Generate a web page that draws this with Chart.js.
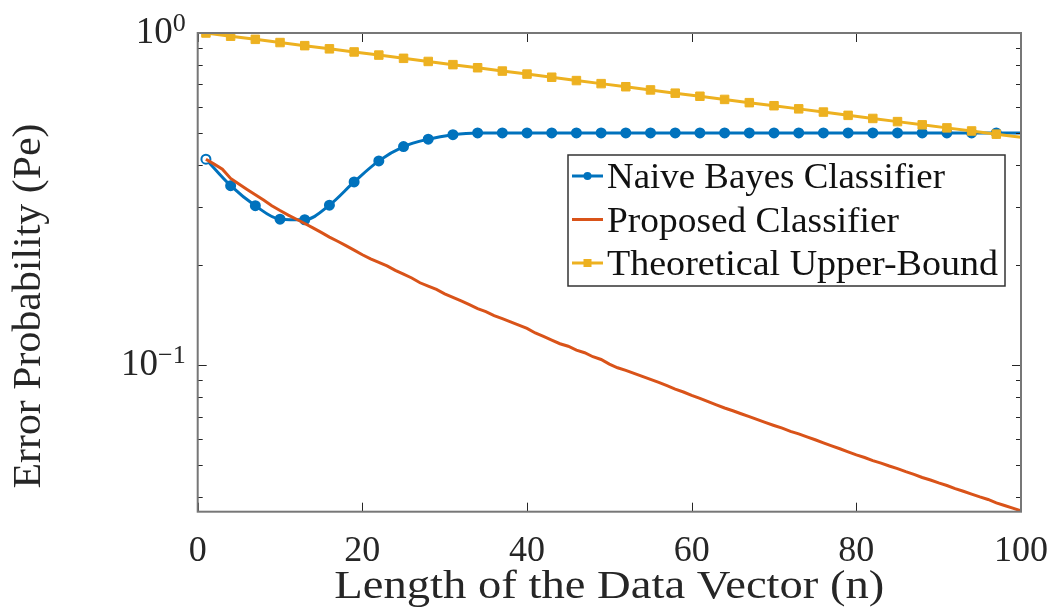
<!DOCTYPE html>
<html><head><meta charset="utf-8">
<script src="https://cdn.jsdelivr.net/npm/chart.js@4.4.0/dist/chart.umd.min.js"></script>
<style>html,body{margin:0;padding:0;background:#fff;overflow:hidden}</style>
</head><body>
<canvas id="c" width="1053" height="616"></canvas>
<script>
// ---------------- data ----------------
const markerN = [1,4,7,10,13,16,19,22,25,28,31,34,37,40,43,46,49,52,55,58,61,64,67,70,73,76,79,82,85,88,91,94,97,100];
const naiveBayes = [0.417,0.347,0.302,0.275,0.274,0.303,0.356,0.412,0.455,0.479,0.494,0.5,0.5,0.5,0.5,0.5,0.5,0.5,0.5,0.5,0.5,0.5,0.5,0.5,0.5,0.5,0.5,0.5,0.5,0.5,0.5,0.5,0.5,0.5];
const upperBound = [1.000,0.978,0.957,0.936,0.916,0.896,0.877,0.858,0.839,0.821,0.803,0.786,0.768,0.752,0.736,0.719,0.704,0.689,0.674,0.659,0.645,0.631,0.617,0.604,0.591,0.578,0.565,0.553,0.541,0.529,0.518,0.507,0.496,0.485];
const proposedN = [1,2,3,4,5,6,7,8,9,10,11,12,13,14,15,16,17,18,19,20,21,22,23,24,25,26,27,28,29,30,31,32,33,34,35,36,37,38,39,40,41,42,43,44,45,46,47,48,49,50,51,52,53,54,55,56,57,58,59,60,61,62,63,64,65,66,67,68,69,70,71,72,73,74,75,76,77,78,79,80,81,82,83,84,85,86,87,88,89,90,91,92,93,94,95,96,97,98,99,100];
const proposed = [0.417,0.403,0.389,0.365,0.351,0.338,0.326,0.314,0.302,0.292,0.283,0.275,0.267,0.259,0.251,0.243,0.236,0.229,0.222,0.215,0.209,0.204,0.199,0.193,0.188,0.183,0.177,0.173,0.169,0.164,0.160,0.156,0.152,0.148,0.145,0.141,0.138,0.135,0.132,0.129,0.125,0.122,0.119,0.116,0.114,0.111,0.109,0.106,0.104,0.1007,0.0982,0.0964,0.0944,0.0925,0.0906,0.0887,0.0867,0.0847,0.0830,0.0811,0.0794,0.0776,0.0759,0.0743,0.0729,0.0714,0.0700,0.0685,0.0671,0.0658,0.0646,0.0632,0.0621,0.0608,0.0596,0.0583,0.0571,0.0560,0.0548,0.0537,0.0527,0.0516,0.0507,0.0497,0.0488,0.0478,0.0469,0.0459,0.0451,0.0442,0.0434,0.0425,0.0417,0.0409,0.0401,0.0394,0.0385,0.0378,0.0371,0.0364];
const xTicks = [0,20,40,60,80,100];
const xTickLabels = ['0','20','40','60','80','100'];
const yMajorTicks = [0.1, 1];
const yMajorLabels = [['10','\u22121'],['10','0']];
const yMinorTicks = [0.04,0.05,0.06,0.07,0.08,0.09,0.2,0.3,0.4,0.5,0.6,0.7,0.8,0.9];
const seriesLabels = ['Naive Bayes Classifier','Proposed Classifier','Theoretical Upper-Bound'];
const xTitle = 'Length of the Data Vector (n)';
const yTitle = 'Error Probability (Pe)';
const yRange = [0.0362, 1];
const xRange = [0, 100];

// ---------------- styles ----------------
const FONT = "'Liberation Serif', 'Times New Roman', serif";
const BLUE = '#0072BD', ORANGE = '#D95319', YELLOW = '#EDB120';

const pts = (xs, ys) => xs.map((v, i) => ({x: v, y: ys[i]}));

// draw text stretched horizontally to a target width (imitates the wider LaTeX face)
function fitText(ctx, text, x, y, target, align) {
  const w = ctx.measureText(text).width;
  const k = target / w;
  ctx.save();
  ctx.textAlign = 'left';
  const x0 = align === 'center' ? x - target / 2 : x;
  ctx.translate(x0, y);
  ctx.scale(k, 1);
  ctx.fillText(text, 0, 0);
  ctx.restore();
}

const decor = {
  id: 'decor',
  afterDraw(chart) {
    const {ctx, chartArea: a, scales: {x, y}} = chart;
    ctx.save();
    const line = (x1, y1, x2, y2) => { ctx.beginPath(); ctx.moveTo(x1, y1); ctx.lineTo(x2, y2); ctx.stroke(); };
    // ticks (inward)
    ctx.strokeStyle = '#262626'; ctx.lineWidth = 1;
    xTicks.forEach(v => {
      const px = Math.round(x.getPixelForValue(v)) + 0.5;
      line(px, a.bottom, px, a.bottom - 9); line(px, a.top, px, a.top + 9);
    });
    yMajorTicks.forEach(v => {
      const py = Math.round(y.getPixelForValue(v)) + 0.5;
      line(a.left, py, a.left + 9, py); line(a.right, py, a.right - 9, py);
    });
    yMinorTicks.forEach(v => {
      const py = Math.round(y.getPixelForValue(v)) + 0.5;
      line(a.left, py, a.left + 5, py); line(a.right, py, a.right - 5, py);
    });
    // box
    ctx.strokeStyle = '#777'; ctx.lineWidth = 2;
    ctx.strokeRect(a.left, a.top, a.right - a.left, a.bottom - a.top);

    // tick labels
    ctx.fillStyle = '#262626';
    ctx.font = '36px ' + FONT; ctx.textAlign = 'center'; ctx.textBaseline = 'alphabetic';
    xTicks.forEach((v, i) => ctx.fillText(xTickLabels[i], x.getPixelForValue(v), a.bottom + 49));
    yMajorTicks.forEach((v, i) => {
      const py = y.getPixelForValue(v);
      ctx.font = '26px ' + FONT; ctx.textAlign = 'right';
      const sw = ctx.measureText(yMajorLabels[i][1]).width;
      const sx = a.left - 12;
      ctx.fillText(yMajorLabels[i][1], sx, py - 2);
      ctx.font = '37px ' + FONT;
      ctx.fillText(yMajorLabels[i][0], sx - sw, py + 10);
    });
    // axis titles
    ctx.font = '40px ' + FONT;
    fitText(ctx, xTitle, (a.left + a.right) / 2, 598, 550, 'center');
    ctx.save();
    ctx.translate(40, 306);
    ctx.rotate(-Math.PI / 2);
    fitText(ctx, yTitle, 0, 0, 365, 'center');
    ctx.restore();

    // legend
    const lw = 437, lh = 131;
    const lx = a.right - 16 - lw, ly = a.top + 122;
    ctx.fillStyle = '#fff'; ctx.fillRect(lx, ly, lw, lh);
    ctx.strokeStyle = '#333'; ctx.lineWidth = 1.5; ctx.strokeRect(lx, ly, lw, lh);
    ctx.font = '36px ' + FONT;
    const legendW = [338, 292, 391];
    chart.data.datasets.forEach((ds, i) => {
      const cy = ly + 21 + i * 43.5;
      ctx.strokeStyle = ds.borderColor; ctx.lineWidth = 3;
      line(lx + 4, cy, lx + 35, cy);
      const mx = lx + 19.5;
      ctx.fillStyle = ds.borderColor;
      if (ds.legendMarker === 'circle') { ctx.beginPath(); ctx.arc(mx, cy, 4, 0, Math.PI * 2); ctx.fill(); }
      else if (ds.legendMarker === 'rect') { ctx.fillRect(mx - 4, cy - 4, 8, 8); }
      ctx.fillStyle = '#111';
      fitText(ctx, ds.label, lx + 39, cy + 12, legendW[i], 'left');
    });
    ctx.restore();
  }
};

new Chart(document.getElementById('c'), {
  type: 'line',
  data: {
    datasets: [
      {
        label: seriesLabels[0], data: pts(markerN, naiveBayes), order: 3, legendMarker: 'circle',
        borderColor: BLUE, backgroundColor: BLUE, borderWidth: 3,
        pointRadius: markerN.map(n => n === 100 ? 0 : 4.5), pointStyle: 'circle',
        pointBackgroundColor: markerN.map((n, i) => i === 0 ? '#fff' : BLUE),
        pointBorderColor: BLUE, pointBorderWidth: 2,
        cubicInterpolationMode: 'monotone', fill: false
      },
      {
        label: seriesLabels[1], data: pts(proposedN, proposed), order: 2, legendMarker: 'none',
        borderColor: ORANGE, backgroundColor: ORANGE, borderWidth: 3, pointRadius: 0, fill: false, tension: 0
      },
      {
        label: seriesLabels[2], data: pts(markerN, upperBound), order: 1, legendMarker: 'rect',
        borderColor: YELLOW, backgroundColor: YELLOW, borderWidth: 3,
        pointRadius: markerN.map(n => n === 100 ? 0 : 6), pointStyle: 'rect',
        pointBackgroundColor: YELLOW, pointBorderColor: YELLOW, pointBorderWidth: 1, fill: false, tension: 0
      }
    ]
  },
  options: {
    responsive: false, animation: false, devicePixelRatio: 1,
    layout: {padding: {left: 0, top: 33, right: 32, bottom: 0}},
    plugins: {legend: {display: false}, title: {display: false}, tooltip: {enabled: false}},
    scales: {
      x: {
        type: 'linear', min: xRange[0], max: xRange[1],
        ticks: {display: false, stepSize: 20}, grid: {display: false}, border: {display: false},
        afterFit(s) { s.height = 104.3; }
      },
      y: {
        type: 'logarithmic', min: yRange[0], max: yRange[1],
        ticks: {display: false}, grid: {display: false}, border: {display: false},
        afterFit(s) { s.width = 197.7; }
      }
    }
  },
  plugins: [decor]
});
</script>
</body></html>
